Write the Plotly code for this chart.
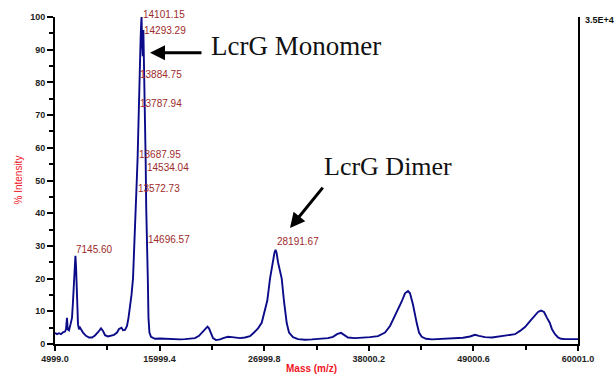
import plotly.graph_objects as go

# ---- spectrum (mass, % intensity) ----
mass = [4999, 5209, 5420, 5630, 5840, 6051, 6156, 6261, 6335, 6471, 6629, 6787, 6892, 6997,
        7081, 7145, 7208, 7272, 7346, 7418, 7523, 7628, 7733, 7944, 8259, 8575, 8890, 9206,
        9521, 9837, 10047, 10258, 10573, 10889, 11204, 11520, 11730, 11993, 12151, 12361,
        12571, 12729, 12887, 13044, 13202, 13307, 13465, 13573, 13688, 13788, 13885, 14000,
        14060, 14101, 14160, 14230, 14293, 14350, 14420, 14534, 14590, 14697, 14760, 14830,
        14930, 15095, 15516, 16042, 16568, 17094, 17619, 18145, 18671, 19197, 19723, 20143,
        20459, 20775, 21037, 21195, 21406, 21616, 21932, 22352, 22773, 23194, 23614, 24035,
        24456, 24982, 25507, 25928, 26349, 26738, 26980, 27327, 27611, 27874, 28085, 28192,
        28295, 28453, 28663, 28842, 29084, 29368, 29610, 30030, 30555, 31292, 32028, 32869,
        33711, 34237, 34657, 35078, 35394, 35814, 36551, 37287, 38128, 38970, 39706, 40232,
        40758, 41462, 41809, 42125, 42335, 42651, 43040, 43282, 43566, 44018, 44649, 45490,
        46332, 47173, 47909, 48645, 49171, 49592, 50223, 50959, 51800, 52642, 53377, 53903,
        54429, 54955, 55481, 55796, 56112, 56427, 56743, 57027, 57268, 57584, 57900, 58216,
        58636, 59162, 59688, 60001]
intensity = [3.4, 3.0, 3.3, 3.0, 3.6, 3.8, 4.5, 8.0, 4.5, 4.2, 6.0, 8.0, 13.0, 20.0,
             25.0, 27.0, 24.0, 17.0, 10.0, 6.0, 4.5, 5.0, 4.5, 3.5, 2.5, 2.0, 2.0, 2.6,
             3.6, 4.8, 4.0, 2.7, 2.3, 2.5, 2.8, 3.5, 4.6, 5.0, 4.2, 4.3,
             5.5, 8.0, 11.0, 15.0, 20.0, 30.0, 40.0, 48.0, 57.0, 72.0, 82.0, 93.0,
             98.0, 100.0, 92.0, 88.0, 96.0, 88.0, 72.0, 56.0, 42.0, 32.0, 20.0, 8.0,
             3.5, 2.2, 1.6, 1.7, 1.6, 1.5, 1.6, 1.4, 1.5, 1.6, 1.8, 2.5,
             3.5, 4.6, 5.3, 4.8, 3.0, 1.8, 1.2, 1.4, 1.9, 2.2, 2.1, 2.0,
             1.8, 2.0, 2.4, 3.5, 4.8, 6.5, 9.0, 13.3, 20.0, 25.0, 28.0, 28.8,
             28.0, 25.0, 22.0, 20.0, 13.0, 6.4, 3.5, 2.1, 1.5, 1.3, 1.4, 1.5,
             1.8, 2.2, 3.0, 3.4, 2.8, 2.0, 1.8, 1.9, 2.1, 2.4, 3.5, 5.5,
             8.5, 13.0, 15.5, 16.2, 15.5, 12.0, 6.4, 3.5, 2.2, 1.6, 1.4, 1.5,
             1.6, 1.7, 1.9, 2.3, 2.8, 2.5, 2.1, 2.0, 2.3, 2.6, 3.0, 4.0,
             5.2, 7.0, 8.8, 9.8, 10.2, 9.8, 8.0, 6.5, 4.5, 3.0, 2.0, 1.6,
             1.5, 1.5, 1.4, 1.5]

# ---- peak labels ----
label_masses = [14101.15, 14293.29, 13884.75, 13787.94, 13687.95, 14534.04, 13572.73,
                14696.57, 7145.60, 28191.67]
label_heights = [100.0, 95.8, 82.4, 73.4, 57.9, 54.0, 47.7, 32.0, 28.8, 31.2]
label_yshift = [3, 0, 0, 0, 0, 0, 0, 0, 0, 0]

# ---- axis ticks ----
x_ticks = [4999.0, 15999.4, 26999.8, 38000.2, 49000.6, 60001.0]
x_ticktext = ["4999.0", "15999.4", "26999.8", "38000.2", "49000.6", "60001.0"]
x_minor = [10499.2, 21499.6, 32500.0, 43500.4, 54500.8]
y_ticks = [0, 10, 20, 30, 40, 50, 60, 70, 80, 90, 100]

SANS = "Liberation Sans, Arial, sans-serif"
SERIF = "Liberation Serif, Times New Roman, serif"
LABEL_RED = "#9E2A2B"

fig = go.Figure()
fig.add_trace(go.Scatter(x=mass, y=intensity, mode="lines",
                         line=dict(color="#0B0B8A", width=1.9), hoverinfo="skip",
                         showlegend=False))

annotations = []
for m, h, s in zip(label_masses, label_heights, label_yshift):
    annotations.append(dict(x=m, y=h, xref="x", yref="y", text=f"{m:.2f}",
                            showarrow=False, xanchor="left", yanchor="middle",
                            yshift=s,
                            font=dict(family=SANS, size=10, color=LABEL_RED),
                            borderpad=0))

# axis titles and extras (paper coords)
annotations += [
    dict(x=-0.0707, y=0.5, xref="paper", yref="paper", text="% Intensity", textangle=-90,
         showarrow=False, xanchor="center", yanchor="middle",
         font=dict(family=SANS, size=10, color="#F0141E")),
    dict(x=0.4895, y=-0.0758, xref="paper", yref="paper", text="Mass (m/z)",
         showarrow=False, xanchor="center", yanchor="middle",
         font=dict(family=SANS, size=10, color="#F0141E", weight="bold")),
    dict(x=1.0096, y=0.991, xref="paper", yref="paper", text="3.5E+4",
         showarrow=False, xanchor="left", yanchor="middle",
         font=dict(family=SANS, size=9, color="#111111", weight="bold")),
    dict(x=0.2945, y=0.912, xref="paper", yref="paper", text="LcrG Monomer",
         showarrow=False, xanchor="left", yanchor="middle",
         font=dict(family=SERIF, size=27, color="#111111")),
    dict(x=0.5105, y=0.5424, xref="paper", yref="paper", text="LcrG Dimer",
         showarrow=False, xanchor="left", yanchor="middle",
         font=dict(family=SERIF, size=26, color="#111111")),
    dict(x=0.1816, y=0.891, xref="paper", yref="paper", text="", showarrow=True,
         ax=53, ay=0, arrowhead=2, arrowsize=1.0, arrowwidth=3, arrowcolor="#000000"),
    dict(x=0.4493, y=0.3545, xref="paper", yref="paper", text="", showarrow=True,
         ax=34, ay=-42, arrowhead=2, arrowsize=1.0, arrowwidth=3, arrowcolor="#000000"),
]

fig.update_layout(
    width=614, height=379,
    margin=dict(l=55, r=36, t=14, b=35),
    paper_bgcolor="white", plot_bgcolor="white",
    annotations=annotations,
    xaxis=dict(range=[4999.0, 60001.0], tickmode="array", tickvals=x_ticks,
               ticktext=x_ticktext, ticks="outside", ticklen=5, tickwidth=1.5,
               tickcolor="#000", showgrid=False, zeroline=False, showline=True,
               linecolor="#000", linewidth=2,
               tickfont=dict(family=SANS, size=9, color="#222", weight="bold"),
               minor=dict(tickmode="array", tickvals=x_minor, ticks="outside",
                          ticklen=4, tickwidth=1.5, tickcolor="#000")),
    yaxis=dict(range=[0, 100], tickmode="array", tickvals=y_ticks,
               ticks="outside", ticklen=6, tickwidth=1.5, tickcolor="#000",
               showgrid=False, zeroline=False, showline=True, mirror=True,
               linecolor="#000", linewidth=2,
               tickfont=dict(family=SANS, size=9, color="#222", weight="bold"),
               minor=dict(dtick=5, tick0=0, ticks="outside", ticklen=4,
                          tickwidth=1.5, tickcolor="#000")),
)

fig.write_html("out.html")
